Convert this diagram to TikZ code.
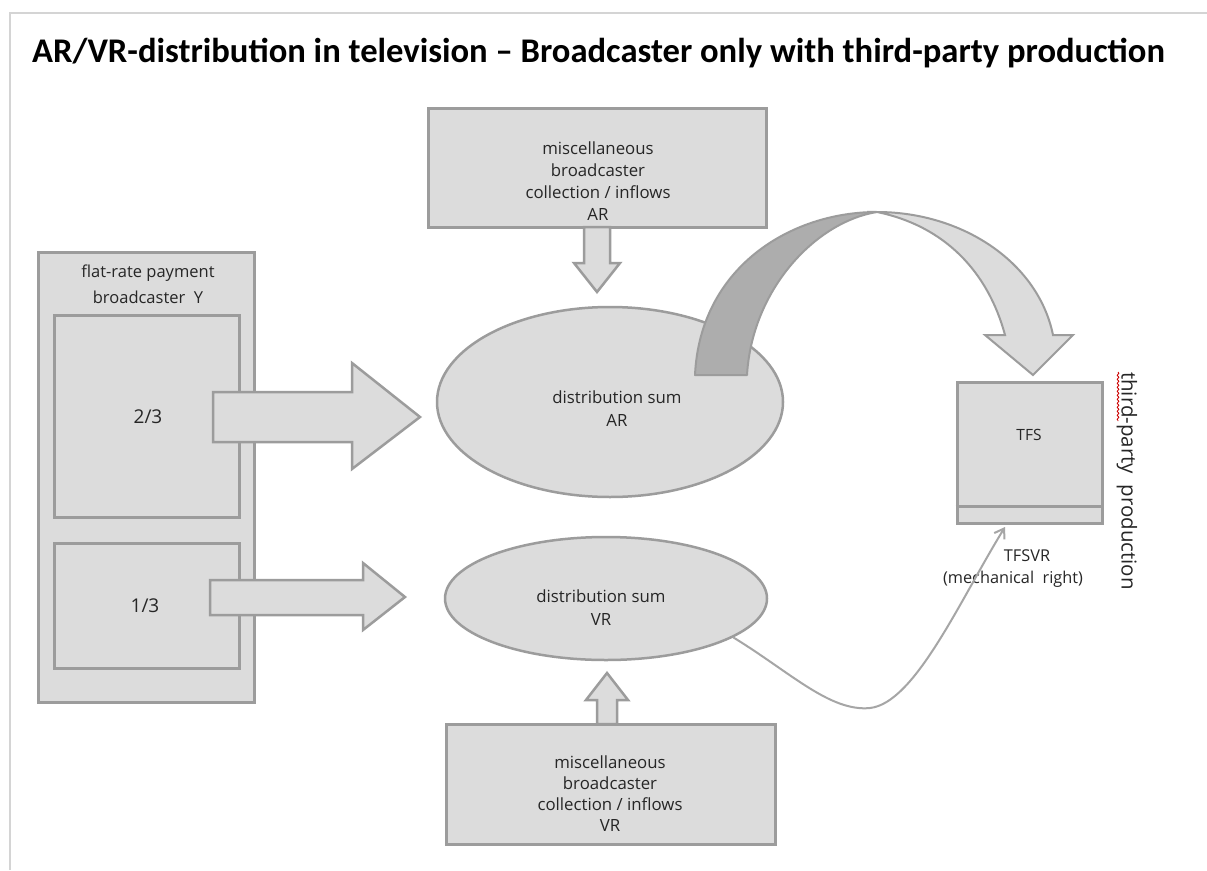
\documentclass[tikz,border=0pt]{standalone}
\usepackage{fontspec}
\setmainfont{Open Sans}
\newfontfamily\titlefont{Carlito}
\usetikzlibrary{shapes.geometric,arrows.meta,decorations.pathmorphing}
\definecolor{boxfill}{HTML}{DCDCDC}
\definecolor{boxline}{HTML}{9C9C9C}
\definecolor{darkband}{HTML}{ADADAD}
\definecolor{framegray}{HTML}{D4D4D4}
\definecolor{txt}{HTML}{262626}
\definecolor{thinline}{HTML}{A6A6A6}
\tikzset{
  boxstyle/.style={draw=boxline, line width=3pt, fill=boxfill},
  ellstyle/.style={ellipse, draw=boxline, line width=2.5pt, fill=boxfill, inner sep=0pt},
  blockarrow/.style={draw=boxline, line width=2.5pt, fill=boxfill, line join=miter},
  lbl/.style={text=txt, align=center, inner sep=0pt, font=\fontsize{16.8}{22}\selectfont},
}
\begin{document}
\begin{tikzpicture}[x=1pt,y=-1pt]
\useasboundingbox (0,0) rectangle (1207,870);
\fill[white] (0,0) rectangle (1207,870);
% outer frame lines
\draw[framegray, line width=1.5pt] (10,870) -- (10,13) -- (1207,13);
% title
\node[anchor=base west, inner sep=0pt, font=\titlefont\bfseries\fontsize{34.6}{38}\selectfont] (title) at (32,62)
  {AR/VR-distribution in television – Broadcaster only with third-party production};

% top box (misc AR)
\node[boxstyle, minimum width=338pt, minimum height=119pt, inner sep=0pt] (miscar) at (597,167.5) {};
\node[lbl] (miscartxt) at (598,181) {miscellaneous\\broadcaster\\collection / inflows\\AR};
% down arrow
\draw[blockarrow] (584,227) -- (610,227) -- (610,263) -- (620,263) -- (597,292) -- (574,263) -- (584,263) -- cycle;

% left big box
\node[boxstyle, minimum width=216pt, minimum height=450pt, inner sep=0pt] (flat) at (146,477) {};
\node[lbl, font=\fontsize{16.5}{18}\selectfont] (flattxt1) at (148,273) {flat-rate payment};
\node[lbl, font=\fontsize{16.5}{18}\selectfont] (flattxt2) at (148,297) {broadcaster\ \ Y};
\node[boxstyle, minimum width=185pt, minimum height=202pt, inner sep=0pt] (twothirds) at (146.5,416) {};
\node[lbl, font=\fontsize{19}{20}\selectfont] (twothirdstxt) at (148,417) {2/3};
\node[boxstyle, minimum width=185pt, minimum height=125pt, inner sep=0pt] (onethird) at (146.5,605.5) {};
\node[lbl, font=\fontsize{19}{20}\selectfont] (onethirdtxt) at (145,606) {1/3};

% ellipses
\node[ellstyle, minimum width=346pt, minimum height=190pt] (ar) at (610,402) {};
\node[lbl, font=\fontsize{16.8}{23}\selectfont] (artxt) at (617,408.5) {distribution sum\\AR};
\node[ellstyle, minimum width=322pt, minimum height=123pt] (vr) at (606,598.5) {};
\node[lbl, font=\fontsize{16.8}{23}\selectfont] (vrtxt) at (601,608) {distribution sum\\VR};

% horizontal block arrows
\draw[blockarrow] (213,392) -- (352,392) -- (352,363) -- (420,417) -- (352,469) -- (352,442) -- (213,442) -- cycle;
\draw[blockarrow] (210,580) -- (363,580) -- (363,563) -- (405,597) -- (363,630) -- (363,615) -- (210,615) -- cycle;

% bottom box (misc VR)
\node[boxstyle, minimum width=329pt, minimum height=120pt, inner sep=0pt] (miscvr) at (610.5,784) {};
\node[lbl, font=\fontsize{16.8}{21}\selectfont] (miscvrtxt) at (610,794) {miscellaneous\\broadcaster\\collection / inflows\\VR};
% up arrow
\draw[blockarrow] (597,724) -- (617,724) -- (617,700) -- (628,700) -- (607,673) -- (586,700) -- (597,700) -- cycle;

% TFS box
\node[boxstyle, minimum width=145pt, minimum height=141pt, inner sep=0pt] (tfs) at (1029.5,452.5) {};
\draw[boxline, line width=3pt] (tfs.west |- 0,506) -- (tfs.east |- 0,506);
\node[lbl, font=\fontsize{15.5}{18}\selectfont] (tfstxt) at (1029,435) {TFS};
\node[lbl, font=\fontsize{16.3}{18}\selectfont] (tfsvrtxt) at (1027,556) {TFSVR};
\node[lbl, font=\fontsize{16.3}{18}\selectfont] (mechtxt) at (1013,579) {(mechanical\ \ right)};
\coordinate (tfsvrtip) at (1005,527);

% vertical label
\node[text=txt, inner sep=0pt, rotate=-90, font=\fontsize{20.5}{22}\selectfont] (thirdparty) at (1127,481) {third-party\ \ production};
\draw[red!80!black, line width=0.8pt, decorate, decoration={snake, amplitude=0.9pt, segment length=4pt}] (1118,372) -- (1118,421);

% curved big arrow: dark back part
\draw[draw=boxline, line width=2pt, fill=darkband, line join=round]
  (695,375) .. controls (700,268) and (790,212) .. (877,212)
  .. controls (815,222) and (752,290) .. (747,375) -- cycle;
% light front part with head
\draw[blockarrow, line width=2pt]
  (877,212) .. controls (962,212) and (1038,262) .. (1053,335)
  -- (1073,335) -- (1033,375) -- (985,335) -- (1005,335)
  .. controls (988,272) and (945,226) .. (877,212) -- cycle;

% thin connector VR -> TFSVR
\draw[thinline, line width=2pt, -{Straight Barb[length=9pt,width=12pt]}]
  (vr.-17) .. controls (790,672) and (830,712) .. (870,708)
  .. controls (915,703) and (960,600) .. (tfsvrtip);
\end{tikzpicture}
\end{document}
